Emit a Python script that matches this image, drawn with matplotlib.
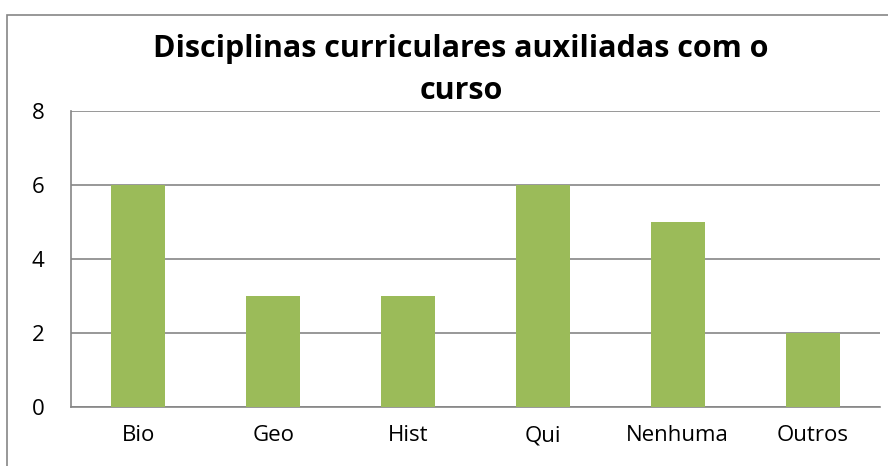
import matplotlib.pyplot as plt
from matplotlib.patches import Rectangle

categories = ['Bio', 'Geo', 'Hist', 'Qui', 'Nenhuma', 'Outros']
values = [6, 3, 3, 6, 5, 2]

plt.rcParams['font.family'] = ['Open Sans', 'DejaVu Sans']

fig = plt.figure(figsize=(8.88, 4.66), dpi=100)
ax = fig.add_axes([71 / 888, 1 - 407 / 466, (880 - 71) / 888, (407 - 111) / 466])

x = range(len(categories))
ax.bar(x, values, width=0.4, color='#9BBB59', zorder=3)

ax.set_xlim(-0.5, len(categories) - 0.5)
ax.set_ylim(0, 8)
ax.set_yticks([0, 2, 4, 6, 8])
ax.set_xticks(list(x))
ax.set_xticklabels(categories)
ax.tick_params(axis='both', length=0, labelsize=16)
ax.tick_params(axis='y', pad=19)
ax.tick_params(axis='x', pad=13)
ax.grid(axis='y', color='#868686', linewidth=1.2, zorder=0)
for s in ['top', 'right']:
    ax.spines[s].set_visible(False)
for s in ['left', 'bottom']:
    ax.spines[s].set_color('#868686')
    ax.spines[s].set_linewidth(1.2)

fig.text(0.519, 1 - 70 / 466, 'Disciplinas curriculares auxiliadas com o\ncurso',
         ha='center', va='center', fontsize=22, fontweight='bold', linespacing=1.5)

# outer chart border
fig.patches.append(Rectangle((7 / 888, -0.1), 1.0, 1 - 15 / 466 + 0.1,
                             transform=fig.transFigure, fill=False,
                             edgecolor='#868686', linewidth=1.2))

fig.savefig('out.png', dpi=100)
